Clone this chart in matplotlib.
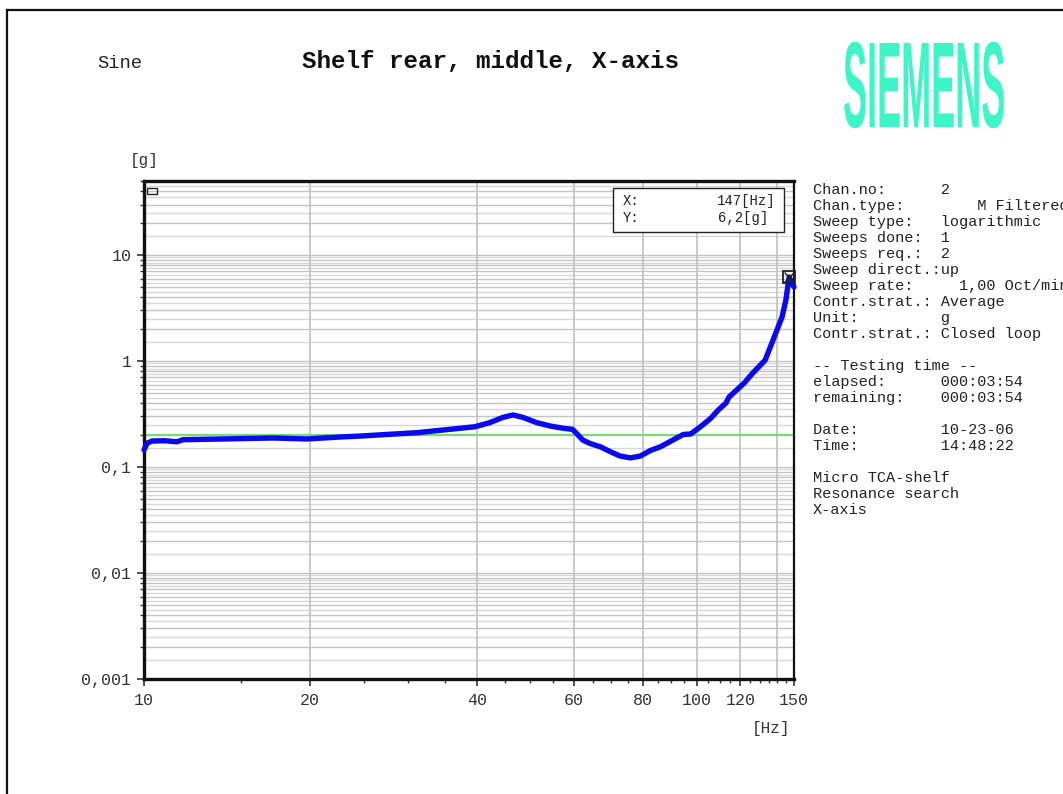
import matplotlib
matplotlib.use("Agg")
import matplotlib.pyplot as plt
from matplotlib import patheffects
from matplotlib.lines import Line2D
from matplotlib.patches import Rectangle
from matplotlib.ticker import FixedLocator, NullFormatter
from matplotlib.transforms import Affine2D
import numpy as np

# ---- measured response (frequency in Hz, acceleration in g) ----
freq = [10.0, 10.13, 10.34, 10.91, 11.47, 11.76, 13.9, 17.1, 19.7, 22.6,
        24.6, 31.2, 39.7, 42.2, 44.6, 46.5, 48.5, 51.4, 54.3, 57.4,
        59.6, 60.6, 62.2, 64.1, 67.0, 69.9, 72.7, 75.9, 79.1, 82.4,
        85.9, 90.6, 94.6, 97.5, 101.6, 106.0, 109.4, 113.0, 114.4, 121.9,
        126.3, 133.0, 136.8, 142.7, 145.0, 147.0, 150.0]
accel = [0.145, 0.168, 0.176, 0.177, 0.173, 0.181, 0.184, 0.188, 0.184, 0.192,
         0.196, 0.211, 0.240, 0.262, 0.294, 0.310, 0.294, 0.262, 0.244, 0.232,
         0.227, 0.208, 0.180, 0.167, 0.155, 0.139, 0.127, 0.122, 0.127, 0.143,
         0.155, 0.180, 0.203, 0.205, 0.240, 0.288, 0.345, 0.402, 0.457, 0.620,
         0.770, 1.02, 1.48, 2.6, 3.76, 6.2, 5.0]

reference_level = 0.2            # g, control reference
cursor_freq, cursor_accel = 147, 6.2

x_major = [10, 20, 40, 60, 80, 100, 120, 150]
x_major_labels = ["10", "20", "40", "60", "80", "100", "120", "150"]
x_grid = [20, 40, 60, 80, 100, 120, 140]
y_major = [0.001, 0.01, 0.1, 1, 10]
y_major_labels = ["0,001", "0,01", "0,1", "1", "10"]

info_lines = [
    "Chan.no:      2",
    "Chan.type:        M Filtered",
    "Sweep type:   logarithmic",
    "Sweeps done:  1",
    "Sweeps req.:  2",
    "Sweep direct.:up",
    "Sweep rate:     1,00 Oct/min",
    "Contr.strat.: Average",
    "Unit:         g",
    "Contr.strat.: Closed loop",
    "",
    "-- Testing time --",
    "elapsed:      000:03:54",
    "remaining:    000:03:54",
    "",
    "Date:         10-23-06",
    "Time:         14:48:22",
    "",
    "Micro TCA-shelf",
    "Resonance search",
    "X-axis",
]

MONO = "Liberation Mono"
W, H = 1063, 794
fig = plt.figure(figsize=(W / 100, H / 100), dpi=100)
fig.patch.set_facecolor("white")


def fx(px):
    return px / W


def fy(py):
    return 1 - py / H


ax = fig.add_axes([fx(144), fy(679), fx(794) - fx(144), fy(181) - fy(679)])
ax.set_xscale("log")
ax.set_yscale("log")
ax.set_xlim(10, 150)
ax.set_ylim(0.001, 50)

# horizontal grid at half steps of each decade
for k in range(-3, 2):
    for m in np.arange(1.0, 10.0, 0.5):
        v = m * 10.0 ** k
        if v <= 50:
            col = "#c4c4c4" if float(m).is_integer() else "#d8d8d8"
            ax.axhline(v, color=col, lw=1.0, zorder=1)
for g in x_grid:
    ax.axvline(g, color="#c4c4c4", lw=1.3, zorder=1)

ax.axhline(reference_level, color="#6ee06e", lw=1.4, zorder=2)
ax.plot(freq, accel, color="#0a0af0", lw=3.9, solid_joinstyle="round",
        solid_capstyle="round", zorder=3, clip_on=False)
ax.plot([cursor_freq], [cursor_accel], marker="s", ms=8, mfc="none",
        mec="#202020", mew=1.3, zorder=4, clip_on=False)
ax.plot([cursor_freq], [cursor_accel], marker="x", ms=7, mec="#202020",
        mew=1.0, zorder=4, clip_on=False)

# ticks
ax.xaxis.set_major_locator(FixedLocator(x_major))
ax.set_xticklabels(x_major_labels)
ax.xaxis.set_minor_locator(FixedLocator([f for f in range(15, 150, 5) if f not in x_major]))
ax.xaxis.set_minor_formatter(NullFormatter())
ax.yaxis.set_major_locator(FixedLocator(y_major))
ax.set_yticklabels(y_major_labels)
ax.yaxis.set_minor_locator(FixedLocator([m * 10.0 ** k for k in range(-3, 2)
                                         for m in range(2, 10) if m * 10.0 ** k <= 50]))
ax.yaxis.set_minor_formatter(NullFormatter())
ax.tick_params(axis="both", which="major", direction="out", length=5, width=1.2,
               color="#333333", labelcolor="#333333", labelsize=12)
ax.tick_params(axis="both", which="minor", direction="out", length=3, width=1.0,
               color="#333333")
ax.tick_params(axis="x", which="major", pad=5)
ax.tick_params(axis="y", which="major", pad=4)
for lab in ax.get_xticklabels() + ax.get_yticklabels():
    lab.set_family(MONO)

for side, w in (("left", 2.4), ("bottom", 2.4), ("top", 2.4), ("right", 1.6)):
    ax.spines[side].set_linewidth(w)
    ax.spines[side].set_color("#111111")

# small legend box in the upper-left corner
ax.add_patch(Rectangle((fx(149) - fx(144), 1 - (194 - 181) / 498), 10 / 650, 6 / 498,
                       transform=ax.transAxes, fill=False, ec="#222222", lw=1.0, zorder=5))

# cursor readout box
box_x0, box_y0, box_x1, box_y1 = 613, 188, 784, 232
fig.add_artist(Rectangle((fx(box_x0), fy(box_y1)), fx(box_x1) - fx(box_x0),
                         fy(box_y0) - fy(box_y1), transform=fig.transFigure,
                         fc="white", ec="#222222", lw=1.0, zorder=6))
fig.text(fx(623), fy(201), "X:", family=MONO, fontsize=10, va="center", color="#222222", zorder=7)
fig.text(fx(623), fy(218), "Y:", family=MONO, fontsize=10, va="center", color="#222222", zorder=7)
fig.text(fx(776), fy(201), f"{cursor_freq}[Hz]", family=MONO, fontsize=10, va="center",
         ha="right", color="#222222", zorder=7)
fig.text(fx(768), fy(218), f"{cursor_accel:.1f}".replace(".", ",") + "[g]", family=MONO,
         fontsize=10, va="center", ha="right", color="#222222", zorder=7)

# axis unit labels
fig.text(fx(130), fy(160), "[g]", family=MONO, fontsize=11.5, va="center", color="#333333")
fig.text(fx(790), fy(729), "[Hz]", family=MONO, fontsize=11.5, va="center", ha="right",
         color="#333333")

# header
fig.text(fx(97), fy(63), "Sine", family=MONO, fontsize=13.5, va="center", color="#222222")
fig.text(fx(490), fy(62), "Shelf rear, middle, X-axis", family=MONO, fontsize=17.5,
         weight="bold", va="center", ha="center", color="#111111")


class Squeeze(patheffects.AbstractPathEffect):
    """Scale the glyph outlines horizontally about the text origin."""

    def __init__(self, sx):
        super().__init__()
        self.sx = sx

    def draw_path(self, renderer, gc, tpath, affine, rgbFace=None):
        ox, oy = affine.transform((0, 0))
        aff = affine + Affine2D().translate(-ox, -oy).scale(self.sx, 1.0).translate(ox, oy)
        renderer.draw_path(gc, tpath, aff, rgbFace)


fig.text(fx(843), fy(127), "SIEMENS", family="Liberation Sans", weight="bold",
         fontsize=88, va="baseline", ha="left", color="#3df5c6",
         path_effects=[Squeeze(0.295)])

# info panel
for i, line in enumerate(info_lines):
    if line:
        fig.text(fx(813), fy(190 + 16 * i), line, family=MONO, fontsize=11,
                 va="center", color="#222222")

# page frame
fig.add_artist(Line2D([fx(7), fx(7)], [0, fy(10)], transform=fig.transFigure,
                      color="#111111", lw=1.6))
fig.add_artist(Line2D([fx(7), 1], [fy(10), fy(10)], transform=fig.transFigure,
                      color="#111111", lw=1.6))

fig.savefig("out.png", dpi=100, facecolor="white")
